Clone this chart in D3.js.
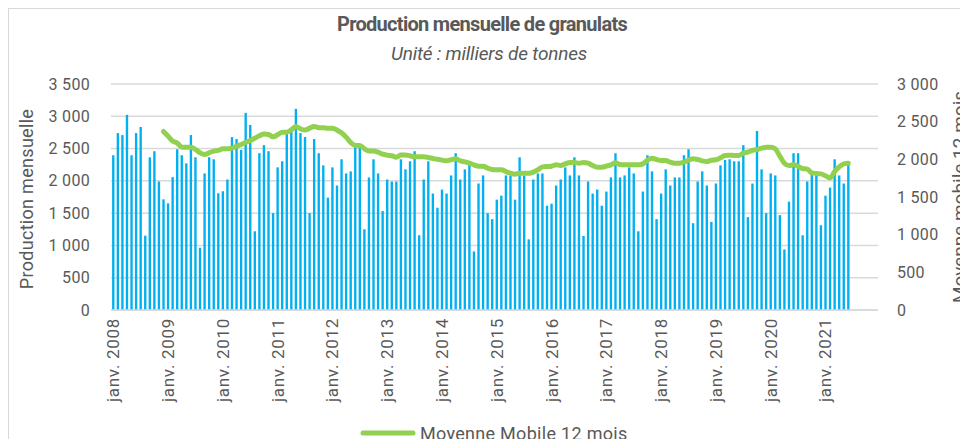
<!DOCTYPE html>
<html lang="fr">
  <head>
    <meta charset="utf-8">
    <title>Production mensuelle de granulats</title>
    <style>
      body { margin: 0; background: #fff; }
      svg text { font-family: Roboto, "DejaVu Sans", sans-serif; fill: #595959; }
    </style>
  </head>
  <body>
    <svg width="960" height="439"></svg>
    <script src="https://d3js.org/d3.v7.min.js"></script>
    <script>
      // months shown on the category axis (Jan 2008 .. Dec 2021)
      var monthNames = ["janv.","févr.","mars","avr.","mai","juin","juil.","août","sept.","oct.","nov.","déc."];
      var years = d3.range(2008, 2022);
      var categories = [];
      years.forEach(y => monthNames.forEach(m => categories.push(m + " " + y)));

      // monthly production (milliers de tonnes), janv. 2008 -> juin 2021
      var production = [
        2397, 2740, 2709, 3022, 2397, 2740, 2834, 1151, 2365, 2459, 1990, 1714,
        1652, 2058, 2490, 2397, 2271, 2709, 2365,  964, 2115, 2365, 2334, 1808,
        1839, 2021, 2678, 2647, 2480, 3053, 2866, 1219, 2428, 2553, 2459, 1500,
        2209, 2303, 2740, 2760, 3115, 2740, 2678, 1500, 2647, 2428, 2240, 1740,
        2209, 1928, 2334, 2115, 2147, 2542, 2532, 1250, 2053, 2334, 2115, 1532,
        2021, 1990, 1990, 2334, 2178, 2303, 2459, 1157, 2021, 2303, 1803, 1584,
        1865, 1803, 2084, 2428, 2021, 2178, 2251,  907, 1959, 2084, 1500, 1407,
        1709, 1771, 2084, 2084, 1709, 2365, 2084, 1094, 2021, 2115, 2115, 1615,
        1646, 1928, 2021, 2209, 2084, 2365, 2084, 1146, 1990, 1803, 1865, 1615,
        1834, 2053, 2428, 2053, 2084, 2209, 2115, 1219, 1834, 2397, 2147, 1407,
        1803, 2178, 1928, 2053, 2053, 2397, 2490, 1344, 1990, 2147, 1928, 1365,
        1959, 2240, 2324, 2334, 2303, 2303, 2553, 1438, 1959, 2772, 2178, 1500,
        2115, 2084, 1469,  938, 1678, 2428, 2428, 1157, 1990, 2115, 2115, 1313,
        1771, 1896, 2334, 2084, 1959, 2271
      ];

      // 12-month moving average, starts déc. 2008 (right axis)
      var maStart = 11;
      var movingAvg = [
        2370,
        2308, 2242, 2215, 2162, 2162, 2162, 2131, 2087, 2064, 2087, 2109, 2118,
        2140, 2140, 2148, 2175, 2197, 2224, 2250, 2281, 2312, 2335, 2330, 2299,
        2326, 2361, 2361, 2392, 2437, 2405, 2388, 2414, 2437, 2419, 2419, 2414,
        2414, 2388, 2352, 2295, 2224, 2184, 2184, 2140, 2109, 2109, 2095, 2069,
        2056, 2047, 2029, 2056, 2056, 2047, 2033, 2033, 2033, 2025, 2011, 2002,
        1989, 1980, 1994, 2007, 1980, 1967, 1949, 1927, 1909, 1909, 1883, 1865,
        1861, 1861, 1838, 1816, 1803, 1816, 1816, 1816, 1830, 1861, 1900, 1905,
        1909, 1927, 1918, 1940, 1958, 1958, 1949, 1958, 1949, 1918, 1896, 1896,
        1909, 1927, 1954, 1931, 1927, 1927, 1927, 1927, 1940, 1989, 2016, 1998,
        1985, 1985, 1962, 1949, 1949, 1962, 1989, 2007, 1998, 1980, 1971, 1989,
        1994, 2020, 2051, 2055, 2051, 2051, 2082, 2095, 2118, 2131, 2148, 2162,
        2162, 2140, 2042, 1949, 1918, 1931, 1905, 1878, 1869, 1821, 1812, 1807,
        1781, 1754, 1838, 1900, 1940, 1949
      ];

      var leftTicks = [0, 500, 1000, 1500, 2000, 2500, 3000, 3500];
      var rightTicks = [0, 500, 1000, 1500, 2000, 2500, 3000];
      var tickLabels = years.map(y => "janv. " + y);

      var svg = d3.select("svg");
      var fmt = v => d3.format(",")(v).replace(",", "\u00a0");

      // outer chart frame
      svg.append("rect")
        .attr("x", 8.5).attr("y", 8.5)
        .attr("width", 1000).attr("height", 1000)
        .attr("fill", "none").attr("stroke", "#d9d9d9");

      var x = d3.scaleBand().domain(categories).range([111, 878]).paddingInner(0.48).paddingOuter(0.24);
      var yL = d3.scaleLinear().domain([0, 3500]).range([310, 84]);
      var yR = d3.scaleLinear().domain([0, 3000]).range([310, 84]);

      // gridlines
      svg.append("g")
        .selectAll("line")
        .data(leftTicks)
        .enter()
        .append("line")
        .attr("x1", 111).attr("x2", 878)
        .attr("y1", d => yL(d)).attr("y2", d => yL(d))
        .attr("stroke", "#d9d9d9")
        .attr("stroke-width", 1.5);

      // left axis
      var gl = svg.append("g")
        .attr("transform", "translate(100,0)")
        .call(d3.axisLeft(yL).tickValues(leftTicks).tickSize(0).tickPadding(10).tickFormat(fmt));
      gl.select(".domain").remove();

      // right axis
      var gr = svg.append("g")
        .attr("transform", "translate(887,0)")
        .call(d3.axisRight(yR).tickValues(rightTicks).tickSize(0).tickPadding(10).tickFormat(fmt));
      gr.select(".domain").remove();

      svg.selectAll(".tick text")
        .style("font-size", "16px")
        .style("letter-spacing", "0.3px")
        .attr("fill", "#595959")
        .attr("font-family", "Roboto");

      // bars
      svg.append("g")
        .selectAll("rect")
        .data(production)
        .enter()
        .append("rect")
        .attr("x", (d, i) => x(categories[i]))
        .attr("width", x.bandwidth())
        .attr("y", d => yL(d))
        .attr("height", d => yL(0) - yL(d))
        .attr("fill", "#00b0f0");

      // category axis: a label every january
      var gx = svg.append("g")
        .attr("transform", "translate(0,310)")
        .call(d3.axisBottom(x)
          .tickValues(tickLabels.slice(0, 14))
          .tickSize(0)
          .tickPadding(0));
      gx.select(".domain")
        .attr("stroke", "#d9d9d9")
        .attr("stroke-width", 1.5)
        .attr("d", "M111,0H878");
      gx.selectAll("text")
        .attr("transform", "rotate(-90)")
        .attr("text-anchor", "end")
        .attr("x", -8)
        .attr("y", 0)
        .attr("dy", "0.35em")
        .style("font-size", "17px")
        .style("letter-spacing", "0.7px")
        .attr("fill", "#595959");

      // moving average line
      var line = d3.line()
        .x((d, i) => x(categories[i + maStart]) + x.bandwidth() / 2)
        .y(d => yR(d))
        .curve(d3.curveMonotoneX);
      svg.append("path")
        .datum(movingAvg)
        .attr("d", line)
        .attr("fill", "none")
        .attr("stroke", "#92d050")
        .attr("stroke-width", 5)
        .attr("stroke-linejoin", "round")
        .attr("stroke-linecap", "round");

      // titles
      svg.append("text")
        .attr("x", 482).attr("y", 31)
        .attr("text-anchor", "middle")
        .style("font-size", "20px")
        .style("font-weight", "bold")
        .style("letter-spacing", "-0.7px")
        .text("Production mensuelle de granulats");
      svg.append("text")
        .attr("x", 489).attr("y", 60)
        .attr("text-anchor", "middle")
        .style("font-size", "19px")
        .style("font-style", "italic")
        .style("letter-spacing", "-0.2px")
        .text("Unité : milliers de tonnes");

      svg.append("text")
        .attr("transform", "translate(33,199) rotate(-90)")
        .attr("text-anchor", "middle")
        .style("font-size", "18px")
        .style("letter-spacing", "0.3px")
        .text("Production mensuelle");
      svg.append("text")
        .attr("transform", "translate(966,197) rotate(-90)")
        .attr("text-anchor", "middle")
        .style("font-size", "19px")
        .text("Moyenne mobile 12 mois");

      // legend
      var lg = svg.append("g").attr("transform", "translate(363,433)");
      lg.append("line")
        .attr("x1", 0).attr("x2", 50)
        .attr("stroke", "#92d050")
        .attr("stroke-width", 5)
        .attr("stroke-linecap", "round");
      lg.append("text")
        .attr("x", 57).attr("y", 7)
        .style("font-size", "18px")
        .style("letter-spacing", "0.3px")
        .text("Moyenne Mobile 12 mois");
    </script>
  </body>
</html>
